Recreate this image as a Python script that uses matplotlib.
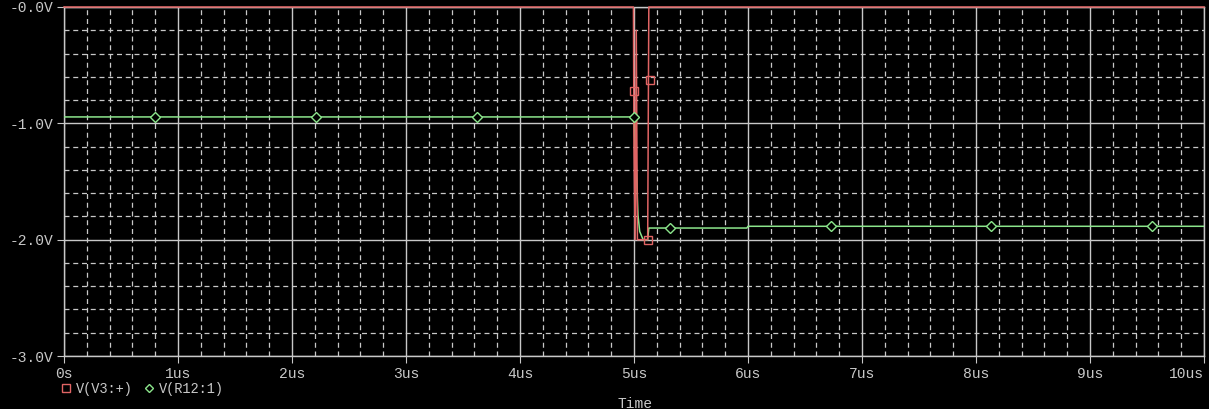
import matplotlib
matplotlib.use("Agg")
import matplotlib.pyplot as plt
from matplotlib.lines import Line2D
import numpy as np

# traces (time in us, volts)
t_v3 = [0.0, 4.995, 5.0, 5.01, 5.02, 5.03, 5.12, 5.13, 10.0]
v_v3 = [0.0, 0.0, -1.2, -2.0, -0.2, -2.0, -2.0, 0.0, 0.0]
t_v3_mk = [5.0, 5.12, 5.14]
v_v3_mk = [-0.72, -2.0, -0.63]

t_r12 = [0.0, 5.0, 5.01, 5.02, 5.035, 5.05, 5.08, 5.12, 5.13, 5.99, 6.0, 10.0]
v_r12 = [-0.945, -0.945, -1.23, -1.36, -1.79, -1.93, -2.0, -2.0, -1.90, -1.90, -1.885, -1.885]
t_r12_mk = [0.80, 2.21, 3.62, 5.0, 5.32, 6.73, 8.13, 9.54]
v_r12_mk = [-0.945, -0.945, -0.945, -0.945, -1.90, -1.885, -1.885, -1.885]

xticks = [0, 1, 2, 3, 4, 5, 6, 7, 8, 9, 10]
xlabels = ["0s", "1us", "2us", "3us", "4us", "5us", "6us", "7us", "8us", "9us", "10us"]
yticks = [0, -1, -2, -3]
ylabels = ["-0.0V", "-1.0V", "-2.0V", "-3.0V"]

fg = "#c8c8c8"
red = "#e06464"
green = "#8ce68c"
mono = ["Liberation Mono", "DejaVu Sans Mono"]

fig = plt.figure(figsize=(12.09, 4.09), dpi=100, facecolor="black")
ax = fig.add_axes([64/1209, 1-356/409, 1140/1209, 349/409], facecolor="black")

ax.set_xlim(0, 10)
ax.set_ylim(-3, 0)
ax.set_xticks(xticks)
ax.set_xticklabels(xlabels)
ax.set_yticks(yticks)
ax.set_yticklabels(ylabels)
ax.set_xticks(np.arange(0, 10, 0.2), minor=True)
ax.set_yticks(np.arange(-3, 0, 0.2), minor=True)

ax.grid(which="major", color=fg, lw=1.0, ls="-")
ax.grid(which="minor", color=fg, lw=0.9, ls=(0, (4, 3)))
ax.tick_params(which="major", direction="out", length=5, color=fg, labelcolor=fg,
               labelsize=10.5, pad=3)
ax.tick_params(which="minor", length=0)
for lab in ax.get_xticklabels() + ax.get_yticklabels():
    lab.set_family(mono)
ax.get_xticklabels()[-1].set_ha("right")
ax.get_xticklabels()[-1].set_x(10)
for s in ax.spines.values():
    s.set_color(fg)
    s.set_linewidth(1.0)

ax.plot(t_r12, v_r12, color=green, lw=1.1, zorder=3)
ax.plot(t_r12_mk, v_r12_mk, ls="none", marker="D", ms=5, mfc="black", mec=green,
        mew=1.0, zorder=4)
ax.plot(t_v3, v_v3, color=red, lw=1.1, zorder=3, clip_on=False)
ax.plot(t_v3_mk, v_v3_mk, ls="none", marker="s", ms=6, mfc="none", mec=red,
        mew=1.0, zorder=4)

handles = [Line2D([], [], ls="none", marker="s", ms=6, mfc="none", mec=red),
           Line2D([], [], ls="none", marker="D", ms=4.5, mfc="none", mec=green)]
leg = fig.legend(handles, ["V(V3:+)", "V(R12:1)"], loc="center left",
                 bbox_to_anchor=(50/1209, 1-389/409), ncol=2, frameon=False,
                 handlelength=0.6, handletextpad=0.4, columnspacing=0.9,
                 prop={"family": mono, "size": 9.8})
for txt in leg.get_texts():
    txt.set_color(fg)

fig.text(635/1209, 1-404/409, "Time", color=fg, ha="center", va="center",
         family=mono, fontsize=10.5)

fig.savefig("out.png", dpi=100, facecolor="black")
